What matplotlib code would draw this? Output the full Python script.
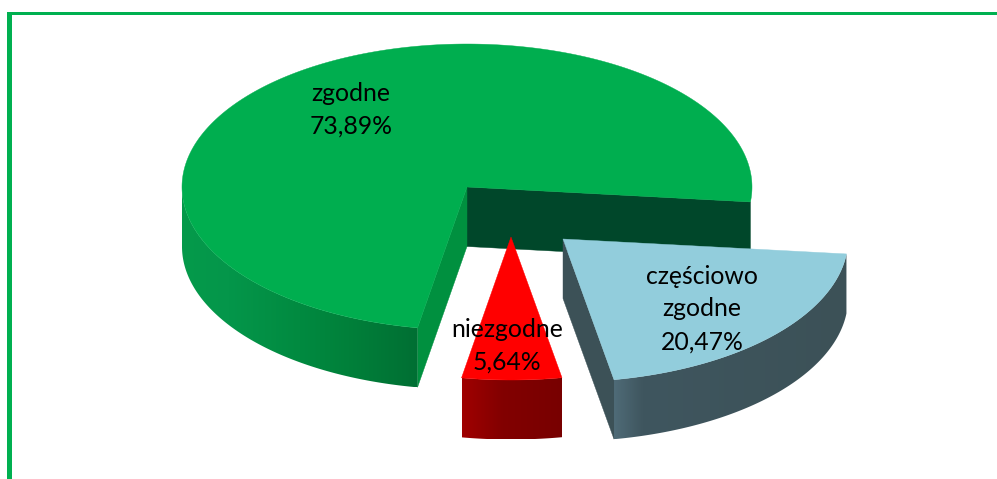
import numpy as np
import matplotlib
matplotlib.use("Agg")
import matplotlib.pyplot as plt
from matplotlib.colors import to_rgb
from matplotlib.patches import Polygon, Rectangle

# data
categories = ["zgodne", "niezgodne", "częściowo\nzgodne"]
values = [73.89, 5.64, 20.47]

# style
start_angle = -6.0
CX, CY, RX, RY, DEPTH = 467.0, 187.0, 285.0, 143.0, 59.5
offsets = [(0, 0), (44, 50), (96, 52)]
top_colors = ["#00ae4f", "#ff0000", "#92cddc"]
inner_colors = [("#00472a", "#00903f"), (None, None), ("#3c5157", None)]
wall_stops = [
    [(0.0, "#059a4a"), (0.2, "#04964a"), (0.5, "#018a40"), (0.71, "#00803a"), (1.0, "#006f33")],
    [(0.0, "#a00000"), (0.4, "#820000"), (1.0, "#780000")],
    [(0.0, "#4f6b77"), (0.12, "#3f565f"), (1.0, "#3c5157")],
]
label_xy = [(351, 110), (507, 346), (702, 309)]

fig = plt.figure(figsize=(9.97, 4.79), dpi=100, facecolor="white")
ax = fig.add_axes([0, 0, 1, 1])
ax.set_xlim(0, 997)
ax.set_ylim(479, 0)
ax.set_autoscale_on(False)
ax.axis("off")

ax.add_patch(Rectangle((7, 12), 990, 3, fc="#00b050", ec="none"))
ax.add_patch(Rectangle((7, 12), 5, 467, fc="#00b050", ec="none"))


def rim(theta_deg, off, dy=0.0):
    t = np.radians(theta_deg)
    return np.column_stack([CX + off[0] + RX * np.cos(t),
                            CY + off[1] + dy - RY * np.sin(t)])


def gradient_row(stops, n=256):
    xs = [s[0] for s in stops]
    cs = np.array([to_rgb(s[1]) for s in stops])
    f = np.linspace(0, 1, n)
    return np.stack([np.interp(f, xs, cs[:, i]) for i in range(3)], axis=1)[None, :, :]


def draw_slice(a0, a1, off, top, inner, stops, z):
    apex = np.array([CX + off[0], CY + off[1]])
    down = np.array([0, DEPTH])
    # cut faces
    if inner[0]:
        p = rim(a0, off)[0]
        ax.add_patch(Polygon([apex, p, p + down, apex + down], fc=inner[0], ec=inner[0], lw=0.3, zorder=z))
    if inner[1]:
        p = rim(a1, off)[0]
        ax.add_patch(Polygon([apex, p, p + down, apex + down], fc=inner[1], ec=inner[1], lw=0.3, zorder=z))
    # outer wall: only the front half of the rim is visible
    lo, hi = max(a0, 180.0), min(a1, 360.0)
    if hi > lo:
        th = np.linspace(lo, hi, 300)
        up, dn = rim(th, off), rim(th, off, DEPTH)
        outline = np.vstack([up, dn[::-1]])
        clip = Polygon(outline, transform=ax.transData, fc="none", ec="none")
        ax.add_patch(clip)
        xmin, xmax = outline[:, 0].min(), outline[:, 0].max()
        ymin, ymax = outline[:, 1].min(), outline[:, 1].max()
        im = ax.imshow(gradient_row(stops), extent=[xmin, xmax, ymax, ymin],
                       aspect="auto", interpolation="bilinear", zorder=z + 0.1)
        im.set_clip_path(clip)
    # top face
    arc = rim(np.linspace(a0, a1, 400), off)
    ax.add_patch(Polygon(np.vstack([apex, arc]), fc=top, ec=top, lw=0.3, zorder=z + 0.2))


spans = np.array(values) / sum(values) * 360.0
bounds = start_angle + np.concatenate([[0], np.cumsum(spans)])
z_order = [1, 3, 2]
for i in range(3):
    draw_slice(bounds[i], bounds[i + 1], offsets[i], top_colors[i], inner_colors[i], wall_stops[i], z_order[i])

for name, val, (x, y) in zip(categories, values, label_xy):
    txt = f"{name}\n{val:.2f}%".replace(".", ",")
    ax.text(x, y, txt, ha="center", va="center", ma="center", fontsize=17.8,
            family=["Lato", "DejaVu Sans"], color="black", linespacing=1.52, zorder=10)

fig.savefig("out.png", dpi=100, facecolor="white")
